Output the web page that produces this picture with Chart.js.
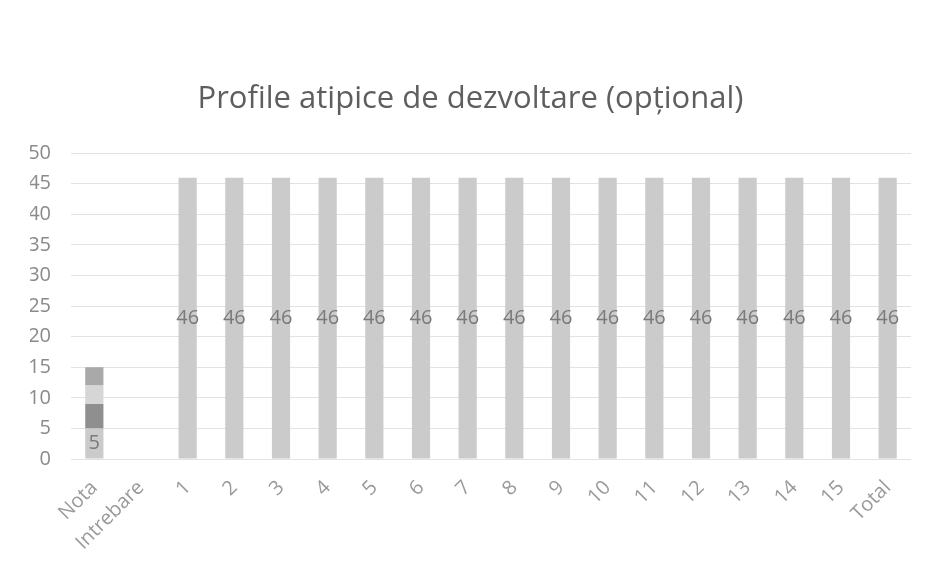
<!DOCTYPE html>
<html>
<head>
<meta charset="utf-8">
<script src="https://cdn.jsdelivr.net/npm/chart.js@4/dist/chart.umd.min.js"></script>
<style>
  html, body { margin: 0; padding: 0; background: #fff; }
  #wrap { width: 931px; height: 569px; }
</style>
</head>
<body>
<div id="wrap"><canvas id="out"></canvas></div>
<script>
const categories = ["Nota", "Intrebare", "1", "2", "3", "4", "5", "6", "7", "8", "9", "10", "11", "12", "13", "14", "15", "Total"];
const serie1 = [5, null, 46, 46, 46, 46, 46, 46, 46, 46, 46, 46, 46, 46, 46, 46, 46, 46];
const serie2 = [4, null, null, null, null, null, null, null, null, null, null, null, null, null, null, null, null, null];
const serie3 = [3, null, null, null, null, null, null, null, null, null, null, null, null, null, null, null, null, null];
const serie4 = [3, null, null, null, null, null, null, null, null, null, null, null, null, null, null, null, null, null];
const yTicks = [0, 5, 10, 15, 20, 25, 30, 35, 40, 45, 50];
const title = "Profile atipice de dezvoltare (opțional)";

// labels in the middle of each segment, only for the first series
const barLabels = {
  id: "barLabels",
  afterDatasetsDraw(chart) {
    const ctx = chart.ctx;
    const meta = chart.getDatasetMeta(0);
    ctx.save();
    ctx.font = "20px 'Open Sans'";
    ctx.fillStyle = "#7a7a7a";
    ctx.textAlign = "center";
    ctx.textBaseline = "middle";
    meta.data.forEach((bar, i) => {
      const v = serie1[i];
      if (v == null) return;
      ctx.fillText(String(v), bar.x, (bar.y + bar.base) / 2);
    });
    ctx.restore();
  }
};

const ds = (label, data, color) => ({
  label, data,
  backgroundColor: color,
  barPercentage: 0.39,
  categoryPercentage: 1
});

const chartConfig = {
  type: "bar",
  data: {
    labels: categories,
    datasets: [
      ds("Serie 1", serie1, "#cbcbcb"),
      ds("Serie 2", serie2, "#8f8f8f"),
      ds("Serie 3", serie3, "#d6d6d6"),
      ds("Serie 4", serie4, "#a9a9a9")
    ]
  },
  options: {
    responsive: true,
    maintainAspectRatio: false,
    animation: false,
    layout: { padding: { left: 30, right: 20, top: 0, bottom: 0 } },
    plugins: {
      legend: { display: false },
      tooltip: { enabled: false },
      title: {
        display: true,
        text: title,
        color: "#5e5e5e",
        font: { family: "'Open Sans'", size: 31, weight: "normal" },
        padding: { top: 81, bottom: 35 }
      }
    },
    scales: {
      x: {
        stacked: true,
        grid: { display: false },
        border: { display: false },
        ticks: {
          autoSkip: false,
          minRotation: 45,
          maxRotation: 45,
          padding: 9,
          color: "#9a9a9a",
          font: { family: "'Open Sans'", size: 20 }
        },
        afterFit(scale) { scale.height = 110; }
      },
      y: {
        stacked: true,
        min: 0,
        max: 50,
        afterBuildTicks(scale) { scale.ticks = yTicks.map(v => ({ value: v })); },
        grid: { color: "#e2e2e2", drawTicks: false },
        border: { display: false },
        ticks: {
          padding: 20,
          color: "#8a8a8a",
          font: { family: "'Open Sans'", size: 20 }
        },
        afterFit(scale) { scale.width = 41; }
      }
    }
  },
  plugins: [barLabels]
};

new Chart(document.getElementById("out").getContext("2d"), chartConfig);
</script>
</body>
</html>
